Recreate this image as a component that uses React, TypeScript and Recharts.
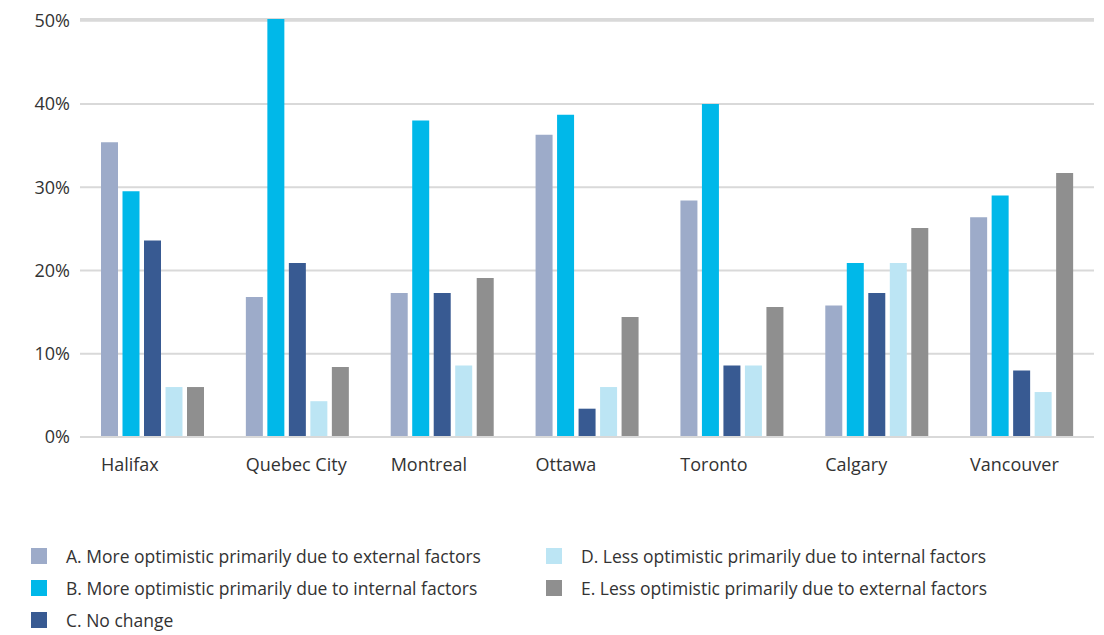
import React from 'react';
import { BarChart, Bar, XAxis, YAxis, CartesianGrid, Legend } from 'recharts';

// Cities on the category axis
const cities = ['Halifax', 'Quebec City', 'Montreal', 'Ottawa', 'Toronto', 'Calgary', 'Vancouver'];

// Share of respondents (%) per answer, one value per city
const moreOptExternal = [35.4, 16.8, 17.3, 36.3, 28.4, 15.8, 26.4];
const moreOptInternal = [29.5, 50.2, 38.0, 38.7, 40.0, 20.9, 29.0];
const noChange = [23.6, 20.9, 17.3, 3.4, 8.6, 17.3, 8.0];
const lessOptInternal = [6.0, 4.3, 8.6, 6.0, 8.6, 20.9, 5.4];
const lessOptExternal = [6.0, 8.4, 19.1, 14.4, 15.6, 25.1, 31.7];

const yTicks = [0, 10, 20, 30, 40, 50];

const seriesNames = [
  'A. More optimistic primarily due to external factors',
  'B. More optimistic primarily due to internal factors',
  'C. No change',
  'D. Less optimistic primarily due to internal factors',
  'E. Less optimistic primarily due to external factors',
];
const seriesColors = ['#9DABC9', '#00B8E9', '#385A92', '#BCE5F4', '#8F8F8F'];
const seriesValues = [moreOptExternal, moreOptInternal, noChange, lessOptInternal, lessOptExternal];

const data = cities.map((city, i) => {
  const row: Record<string, string | number> = { city };
  seriesValues.forEach((vals, s) => {
    row['s' + s] = vals[i];
  });
  return row;
});

const FONT = '"Open Sans", sans-serif';
const TEXT = '#333333';
const BAR_SIZE = 17;
const BAR_GAP = 4.5;
const GROUP_HALF = (BAR_SIZE * 5 + BAR_GAP * 4) / 2;

// City names start at the left edge of each bar group
const CityTick = (props: any) => {
  const { x, y, payload } = props;
  return (
    <text x={x - GROUP_HALF} y={y + 34} textAnchor="start" fill={TEXT} fontSize={18} fontFamily={FONT}>
      {payload.value}
    </text>
  );
};

// Two-column legend: A–C on the left, D–E on the right
const LegendBlock = (props: any) => {
  const items = props.payload || [];
  const cols = [items.slice(0, 3), items.slice(3)];
  const colLeft = [31, 546];
  return (
    <div style={{ position: 'relative', width: 1104, height: 90, fontFamily: FONT, fontSize: 17.5, color: TEXT }}>
      {cols.map((col: any[], c: number) =>
        col.map((it: any, r: number) => (
          <div
            key={it.value}
            style={{
              position: 'absolute',
              left: colLeft[c],
              top: r * 32,
              height: 16,
              display: 'flex',
              alignItems: 'center',
              whiteSpace: 'nowrap',
            }}
          >
            <span style={{ display: 'inline-block', width: 16, height: 16, background: it.color, marginRight: 19 }} />
            <span>{it.value}</span>
          </div>
        ))
      )}
    </div>
  );
};

export default function App() {
  return (
    <div style={{ position: 'absolute', left: 0, top: 0, width: 1104, height: 635, background: '#fff' }}>
      <BarChart
        width={1104}
        height={635}
        data={data}
        margin={{ top: 19, right: 10, bottom: 158, left: 0 }}
        barSize={BAR_SIZE}
        barGap={BAR_GAP}
      >
        <CartesianGrid vertical={false} stroke="#D9D9D9" strokeWidth={2} />
        <XAxis
          dataKey="city"
          height={40}
          axisLine={{ stroke: '#D9D9D9', strokeWidth: 2 }}
          tickLine={false}
          tickSize={0}
          tickMargin={0}
          tick={<CityTick />}
          interval={0}
        />
        <YAxis
          width={80}
          domain={[0, 50]}
          ticks={yTicks}
          axisLine={false}
          tickLine={false}
          tickSize={0}
          tickMargin={10}
          tickFormatter={(v: number) => `${v}%`}
          tick={{ fill: TEXT, fontSize: 18, fontFamily: FONT }}
        />
        <Legend
          layout="horizontal"
          verticalAlign="middle"
          align="center"
          wrapperStyle={{ top: 548, left: 0, width: 1104 }}
          content={<LegendBlock />}
        />
        {seriesNames.map((name, s) => (
          <Bar key={name} dataKey={'s' + s} name={name} fill={seriesColors[s]} isAnimationActive={false} />
        ))}
      </BarChart>
    </div>
  );
}
